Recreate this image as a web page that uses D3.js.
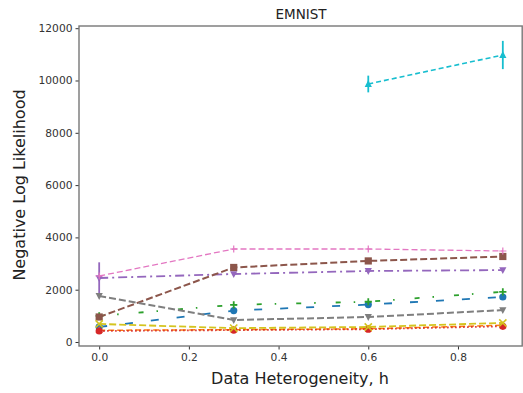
<!DOCTYPE html>
<html>
<head>
<meta charset="utf-8">
<script src="https://cdn.jsdelivr.net/npm/d3@7"></script>
<style>
html,body{margin:0;padding:0;background:#fff;}
svg{display:block;font-family:"DejaVu Sans",sans-serif;}
</style>
</head>
<body>
<svg id="chart" width="523" height="393"></svg>
<script>
// ---- data ----
const hValues = [0, 0.3, 0.6, 0.9];
const xTicks = [0.0, 0.2, 0.4, 0.6, 0.8];
const yTicks = [0, 2000, 4000, 6000, 8000, 10000, 12000];

const blueVals   = [575, 1200, 1430, 1720];
const orangeVals = [450, 470, 505, 640];
const greenVals  = [1000, 1420, 1540, 1920];
const redVals    = [420, 455, 490, 600];
const purpleVals = [2447, 2600, 2715, 2750];
const purpleErr  = [600, 60, 60, 60];
const brownVals  = [956, 2850, 3100, 3270];
const pinkVals   = [2524, 3556, 3556, 3480];
const grayVals   = [1760, 840, 956, 1220];
const oliveVals  = [690, 530, 575, 730];
const cyanVals   = [null, null, 9866, 10975];
const cyanErr    = [0, 0, 320, 540];

const seriesList = [
  {name:"blue",   vals:blueVals,   color:"#1f77b4", dash:"8,18",        lw:1.8, marker:"circle"},
  {name:"orange", vals:orangeVals, color:"#ff7f0e", dash:"6,3",         lw:1.5, marker:"triangle"},
  {name:"green",  vals:greenVals,  color:"#2ca02c", dash:"5,13,1.5,20", lw:1.8, marker:"plus"},
  {name:"red",    vals:redVals,    color:"#d62728", dash:"1.5,2.5",     lw:1.8, marker:"circle"},
  {name:"purple", vals:purpleVals, color:"#9467bd", dash:"9,4,2,4",     lw:1.8, marker:"tridown", err:purpleErr},
  {name:"brown",  vals:brownVals,  color:"#8c564b", dash:"7,3",         lw:2,   marker:"square"},
  {name:"pink",   vals:pinkVals,   color:"#e377c2", dash:"6,3",         lw:1.3, marker:"thinplus"},
  {name:"gray",   vals:grayVals,   color:"#7f7f7f", dash:"7,3",         lw:2,   marker:"tridown"},
  {name:"olive",  vals:oliveVals,  color:"#d4c41f", dash:"7,3",         lw:1.8, marker:"x"},
  {name:"cyan",   vals:cyanVals,   color:"#17becf", dash:"5,3",         lw:1.6, marker:"triangle", err:cyanErr}
];

// ---- layout ----
const svg = d3.select("#chart");
const mLeft = 79, mRight = 523, mTop = 26, mBottom = 346;
const x = d3.scaleLinear().domain([-0.045, 0.945]).range([mLeft, mRight]);
const y = d3.scaleLinear().domain([-153, 12084]).range([mBottom, mTop]);

// series
const plot = svg.append("g");
seriesList.forEach(s => {
  const pts = hValues.map((h,i)=>({h, v:s.vals[i], e: s.err ? s.err[i] : 0})).filter(d=>d.v!=null);
  const line = d3.line().x(d=>x(d.h)).y(d=>y(d.v));
  plot.append("path").datum(pts)
    .attr("d", line).attr("fill","none")
    .attr("stroke", s.color).attr("stroke-width", s.lw)
    .attr("stroke-dasharray", s.dash);
  // error bars
  pts.filter(d=>d.e>0).forEach(d=>{
    plot.append("line")
      .attr("x1",x(d.h)).attr("x2",x(d.h))
      .attr("y1",y(d.v-d.e)).attr("y2",y(d.v+d.e))
      .attr("stroke",s.color).attr("stroke-width",1.8);
  });
  // markers
  pts.forEach(d=>{
    const cx = x(d.h), cy = y(d.v);
    const g = plot.append("g").attr("transform",`translate(${cx},${cy})`);
    const r = 3.6;
    switch(s.marker){
      case "circle":
        g.append("circle").attr("r",r).attr("fill",s.color); break;
      case "square":
        g.append("rect").attr("x",-r).attr("y",-r).attr("width",2*r).attr("height",2*r).attr("fill",s.color); break;
      case "triangle":
        g.append("path").attr("d",`M0,${-r*1.1}L${r},${r*0.8}L${-r},${r*0.8}Z`).attr("fill",s.color); break;
      case "tridown":
        g.append("path").attr("d",`M0,${r*1.1}L${r},${-r*0.8}L${-r},${-r*0.8}Z`).attr("fill",s.color); break;
      case "plus":
        g.append("path").attr("d",`M${-r},0H${r}M0,${-r}V${r}`).attr("stroke",s.color).attr("stroke-width",1.8); break;
      case "thinplus":
        g.append("path").attr("d",`M${-r},0H${r}M0,${-r}V${r}`).attr("stroke",s.color).attr("stroke-width",1.2); break;
      case "x":
        g.append("path").attr("d",`M${-r},${-r}L${r},${r}M${r},${-r}L${-r},${r}`).attr("stroke",s.color).attr("stroke-width",1.6); break;
    }
  });
});

// axes
const xAxis = d3.axisBottom(x).tickValues(xTicks).tickFormat(d3.format(".1f")).tickSize(3.5).tickPadding(4);
const yAxis = d3.axisLeft(y).tickValues(yTicks).tickFormat(d=>String(d)).tickSize(3.5).tickPadding(3);
const gx = svg.append("g").attr("transform",`translate(0,${mBottom})`).call(xAxis);
const gy = svg.append("g").attr("transform",`translate(${mLeft},0)`).call(yAxis);
[gx,gy].forEach(g=>{
  g.select(".domain").remove();
  g.selectAll(".tick line").attr("stroke","#333").attr("stroke-width",1);
  g.selectAll(".tick text").attr("fill","#333").style("font-size","10.7px").style("font-family","DejaVu Sans");
});

// frame
svg.append("rect").attr("x",mLeft).attr("y",mTop).attr("width",mRight-mLeft-0.8).attr("height",mBottom-mTop)
  .attr("fill","none").attr("stroke","#777").attr("stroke-width",1.4);

// title & labels
svg.append("text").attr("x",(mLeft+mRight)/2).attr("y",19).attr("text-anchor","middle")
  .style("font-size","13.5px").attr("fill","#222").text("EMNIST");
svg.append("text").attr("x",300).attr("y",384).attr("text-anchor","middle")
  .style("font-size","16px").attr("fill","#222").text("Data Heterogeneity, h");
svg.append("text").attr("transform",`translate(25,185) rotate(-90)`).attr("text-anchor","middle")
  .style("font-size","16px").attr("fill","#222").text("Negative Log Likelihood");
</script>
</body>
</html>
